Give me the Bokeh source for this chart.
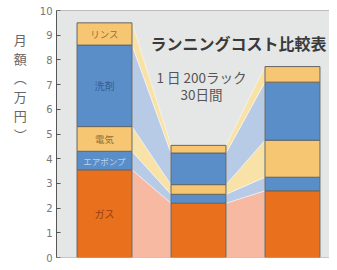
from bokeh.plotting import figure
from bokeh.models import Label, Range1d, FixedTicker, ColumnDataSource, Span
from bokeh.embed import file_html
from bokeh.resources import INLINE
from bokeh.core.properties import value

# ---- data (万円 / month) ----
systems = ["System A", "System B", "System C"]
series_names = ["ガス", "エアポンプ", "電気", "洗剤", "リンス"]
gas = [3.55, 2.2, 2.7]
air_pump = [0.75, 0.36, 0.55]
electricity = [1.0, 0.39, 1.5]
detergent = [3.3, 1.28, 2.35]
rinse = [0.9, 0.31, 0.63]
y_ticks = [0, 1, 2, 3, 4, 5, 6, 7, 8, 9, 10]

title_text = "ランニングコスト比較表"
sub_line1 = "1 日 200ラック"
sub_line2 = "30日間"
y_label = "月\n額\n︵\n万\n円\n︶\n\n\n\n\n"

FONT = "Noto Sans CJK JP"
bar_colors = ["#e9701d", "#5a8ec9", "#f6c672", "#5a8ec9", "#f6c672"]
band_colors = ["#f8b9a2", "#b8cbe6", "#f9e2a8", "#b8cbe6", "#f9e2a8"]
label_colors = ["#8a3510", "#cfe0f4", "#80602c", "#2e5487", "#80602c"]
label_sizes = ["10px", "8.5px", "9.5px", "10px", "9.5px"]

layers = [gas, air_pump, electricity, detergent, rinse]
xpos = list(range(len(systems)))
bar_w = 0.585

p = figure(width=329, height=262, output_backend="svg", toolbar_location=None,
           x_axis_type=None, x_range=Range1d(-0.511, 2.394), y_range=Range1d(0, 10),
           min_border_left=56, min_border_right=0, min_border_top=10, min_border_bottom=5)
p.background_fill_color = "#e5e7e7"
p.border_fill_color = "white"
p.outline_line_color = None
p.grid.visible = False

# cumulative stacks
cum = []
run = [0.0] * len(systems)
for layer in layers:
    bottom = run[:]
    run = [a + b for a, b in zip(run, layer)]
    cum.append((bottom, run[:]))

# connecting bands between adjacent bars
for k, (bottom, top) in enumerate(cum):
    xs, ys = [], []
    for i in range(len(systems) - 1):
        xa = xpos[i] + bar_w / 2
        xb = xpos[i + 1] - bar_w / 2
        xs.append([xa, xa, xb, xb])
        ys.append([bottom[i], top[i], top[i + 1], bottom[i + 1]])
    p.patches(xs=xs, ys=ys, fill_color=band_colors[k], line_color="white",
              line_alpha=0.6, line_width=0.8)

# stacked bars
for k, (bottom, top) in enumerate(cum):
    p.vbar(x=xpos, bottom=bottom, top=top, width=bar_w, fill_color=bar_colors[k],
           line_color="#666666", line_width=1)

# segment labels inside the first bar
mid = [(b[0] + t[0]) / 2 for b, t in cum]
src = ColumnDataSource(dict(x=[xpos[0]] * len(series_names), y=mid, t=series_names,
                            c=label_colors, s=label_sizes))
p.text(x="x", y="y", text="t", source=src, text_color="c", text_font_size="s",
       text_align="center", text_baseline="middle", text_font=value(FONT), text_alpha=0.85)

# axis
p.yaxis.ticker = FixedTicker(ticks=y_ticks)
p.yaxis.major_label_text_font_size = "10px"
p.yaxis.major_label_text_color = "#777777"
p.yaxis.major_label_text_font = "DejaVu Sans"
p.yaxis.axis_line_color = "#555555"
p.yaxis.major_tick_line_color = "#555555"
p.yaxis.major_tick_in = 4
p.yaxis.major_tick_out = 0
p.yaxis.minor_tick_line_color = None
p.yaxis.major_label_standoff = 4
p.yaxis.axis_label = y_label
p.yaxis.axis_label_orientation = "horizontal"
p.yaxis.axis_label_text_font = FONT
p.yaxis.axis_label_text_font_size = "13px"
p.yaxis.axis_label_text_font_style = "normal"
p.yaxis.axis_label_text_color = "#666666"
p.yaxis.axis_label_text_line_height = 1.0
p.yaxis.axis_label_standoff = 10

p.add_layout(Span(location=10, dimension="width", line_color="#8a8a8a", line_width=1))
p.add_layout(Span(location=0, dimension="width", line_color="#9a9a9a", line_width=1))

# texts
p.add_layout(Label(x=182, y=215, x_units="screen", y_units="screen", text=title_text,
                   text_font=FONT, text_font_size="16px", text_font_style="bold",
                   text_color="#3a3a3a", text_align="center", text_baseline="middle"))
p.add_layout(Label(x=145, y=181, x_units="screen", y_units="screen", text=sub_line1,
                   text_font=FONT, text_font_size="13.5px", text_color="#555555",
                   text_align="center", text_baseline="middle"))
p.add_layout(Label(x=145, y=164, x_units="screen", y_units="screen", text=sub_line2,
                   text_font=FONT, text_font_size="13.5px", text_color="#555555",
                   text_align="center", text_baseline="middle"))

open("out.html", "w").write(file_html(p, INLINE))
